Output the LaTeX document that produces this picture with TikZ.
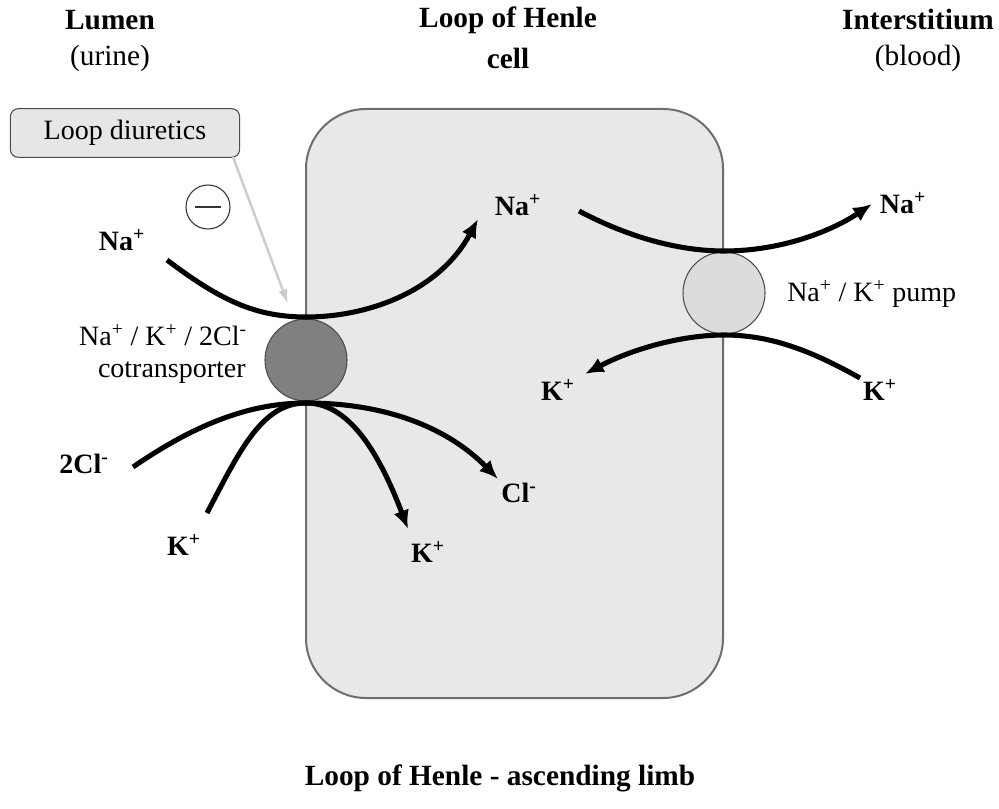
\documentclass[tikz,border=0pt]{standalone}
\usepackage{fontspec}
\setmainfont{Liberation Serif}
\usetikzlibrary{arrows.meta}
\definecolor{cellfill}{HTML}{E8E8E8}
\definecolor{cellline}{HTML}{6E6E6E}
\definecolor{cotfill}{HTML}{808080}
\definecolor{pumpfill}{HTML}{DCDCDC}
\definecolor{boxfill}{HTML}{E6E6E6}
\definecolor{hintgray}{HTML}{CCCCCC}
\tikzset{
  txt/.style={inner sep=0pt, font=\fontsize{21}{25}\selectfont},
  btxt/.style={inner sep=0pt, font=\fontsize{21}{25}\selectfont\bfseries},
  htxt/.style={inner sep=0pt, font=\fontsize{22}{26}\selectfont\bfseries},
  hsub/.style={inner sep=0pt, font=\fontsize{22}{26}\selectfont},
  cellbox/.style={draw=cellline, fill=cellfill, line width=1.5pt, rounded corners=45pt},
  cotrans/.style={circle, draw=black!70, fill=cotfill, line width=0.8pt, minimum size=61.5pt, inner sep=0pt},
  pumpc/.style={circle, draw=black!70, fill=pumpfill, line width=0.8pt, minimum size=61.5pt, inner sep=0pt},
  flow/.style={line width=3.8pt, -{Latex[length=14pt,width=12pt]}},
  hint/.style={draw=hintgray, line width=1.8pt, -{Latex[length=11pt,width=7pt]}},
  drugbox/.style={draw=black!70, fill=boxfill, line width=0.8pt, rounded corners=6pt,
    minimum width=172pt, minimum height=36.5pt, inner sep=0pt, font=\fontsize{21}{25}\selectfont},
  minuscirc/.style={circle, draw=black!80, line width=0.8pt, minimum size=33pt, inner sep=0pt}
}
\begin{document}
\begin{tikzpicture}[x=0.75pt,y=-0.75pt]
\useasboundingbox (0,0) rectangle (999,809);
\fill[white] (0,0) rectangle (999,809);

% cell
\draw[cellbox] (306,109) rectangle (723,698);

% headers
\node[htxt] (h1) at (110,20) {Lumen};
\node[hsub] (h1b) at (110,58) {(urine)};
\node[htxt] (h2) at (508,20) {Loop of Henle};
\node[htxt] (h2b) at (508,58) {cell};
\node[htxt] (h3) at (918,20) {Interstitium};
\node[hsub] (h3b) at (918,58) {(blood)};

% loop diuretics
\node[drugbox] (diur) at (125,133) {Loop diuretics};
\coordinate (dstart) at (233,157);
\coordinate (dtip) at (288,304);
\draw[hint] (dstart) -- (dtip);
\node[minuscirc] (minus) at (208,207) {};
\draw[line width=0.8pt, black!80] ([xshift=7pt]minus.west) -- ([xshift=-7pt]minus.east);

% cotransporter
\node[cotrans] (cot) at (306,360) {};
\node[txt, anchor=east] (cotl1) at (247,335) {Na\textsuperscript{+} / K\textsuperscript{+} / 2Cl\textsuperscript{-}};
\node[txt, anchor=east] (cotl2) at (246,373) {cotransporter};

% pump
\node[pumpc] (pump) at (724,293) {};
\node[txt, anchor=west] (pumpl) at (787,294) {Na\textsuperscript{+} / K\textsuperscript{+} pump};

% ion labels
\node[btxt] (naL) at (122,240) {Na\textsuperscript{+}};
\node[btxt] (naC) at (518,205) {Na\textsuperscript{+}};
\node[btxt] (naR) at (903,203) {Na\textsuperscript{+}};
\node[btxt] (kC) at (558,390) {K\textsuperscript{+}};
\node[btxt] (kR) at (880,390) {K\textsuperscript{+}};
\node[btxt] (clL) at (84,464) {2Cl\textsuperscript{-}};
\node[btxt] (clR) at (519,493) {Cl\textsuperscript{-}};
\node[btxt] (kL) at (184,545) {K\textsuperscript{+}};
\node[btxt] (kB) at (428,552) {K\textsuperscript{+}};

% curve end points
\coordinate (naLs) at (167,260);
\coordinate (naLe) at (478,219);
\coordinate (naRs) at (579,211);
\coordinate (naRe) at (872,204);
\coordinate (kPs) at (860,378);
\coordinate (kPe) at (585,374);
\coordinate (clS) at (133,467);
\coordinate (clE) at (498,479);
\coordinate (kS) at (207,513);
\coordinate (kE) at (408,529);
\coordinate (cotTop) at (306,317);
\coordinate (cotBot) at (306,403);
\coordinate (pumpTop) at (724,251);
\coordinate (pumpBot) at (724,335);

% flows through cotransporter
\draw[flow] (naLs) .. controls (220,300) and (255,317) .. (cotTop) .. controls (370,317) and (440,290) .. (naLe);
\draw[flow] (clS) .. controls (190,428) and (245,403) .. (cotBot) .. controls (390,403) and (450,430) .. (clE);
\draw[flow] (kS) .. controls (240,450) and (262,403) .. (cotBot) .. controls (348,403) and (378,450) .. (kE);

% flows through pump
\draw[flow] (naRs) .. controls (630,238) and (680,251) .. (pumpTop) .. controls (780,251) and (830,232) .. (naRe);
\draw[flow] (kPs) .. controls (810,350) and (770,335) .. (pumpBot) .. controls (680,335) and (630,350) .. (kPe);

% title
\node[htxt] (title) at (500,778) {Loop of Henle - ascending limb};
\end{tikzpicture}
\end{document}
